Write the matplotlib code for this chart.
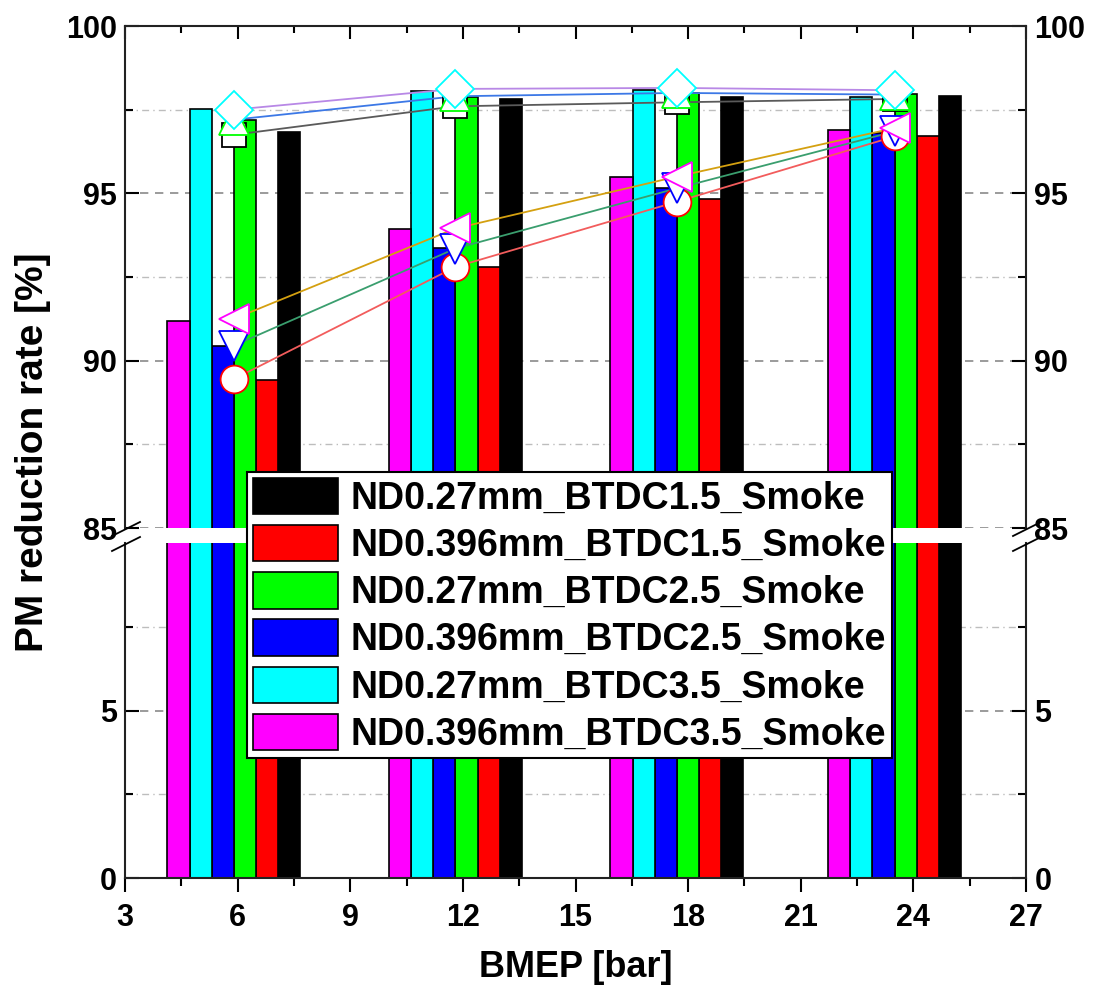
import matplotlib
matplotlib.use("Agg")
import matplotlib.pyplot as plt
import matplotlib.patches as mpatches
from matplotlib.lines import Line2D
from matplotlib.ticker import MultipleLocator, FixedLocator

plt.rcParams['font.family'] = ['Liberation Sans', 'DejaVu Sans']
plt.rcParams['font.weight'] = 'bold'

# ---- data ----
bmep = [5.9, 11.8, 17.7, 23.5]

series_labels = [
    "ND0.27mm_BTDC1.5_Smoke",
    "ND0.396mm_BTDC1.5_Smoke",
    "ND0.27mm_BTDC2.5_Smoke",
    "ND0.396mm_BTDC2.5_Smoke",
    "ND0.27mm_BTDC3.5_Smoke",
    "ND0.396mm_BTDC3.5_Smoke",
]
bar_colors = ["#000000", "#ff0000", "#00ff00", "#0000ff", "#00ffff", "#ff00ff"]

nd027_btdc15 = [96.84, 97.81, 97.87, 97.91]
nd0396_btdc15 = [89.42, 92.81, 94.83, 96.71]
nd027_btdc25 = [97.19, 97.89, 98.01, 97.97]
nd0396_btdc25 = [90.44, 93.38, 95.15, 96.80]
nd027_btdc35 = [97.51, 98.07, 98.09, 97.89]
nd0396_btdc35 = [91.20, 93.93, 95.50, 96.89]
bar_values = [nd027_btdc15, nd0396_btdc15, nd027_btdc25,
              nd0396_btdc25, nd027_btdc35, nd0396_btdc35]

# trend lines with symbols
trend_027_15 = [96.75, 97.60, 97.72, 97.82]
trend_0396_15 = [89.45, 92.80, 94.75, 96.70]
trend_027_25 = [97.20, 97.90, 98.00, 97.95]
trend_0396_25 = [90.45, 93.35, 95.15, 96.85]
trend_027_35 = [97.50, 98.12, 98.15, 98.08]
trend_0396_35 = [91.25, 93.95, 95.50, 96.95]
trend_values = [trend_027_15, trend_0396_15, trend_027_25,
                trend_0396_25, trend_027_35, trend_0396_35]
trend_line_colors = ["#5a5a5a", "#f25c5c", "#3c78e6", "#3a9e6e", "#b888e6", "#d4a010"]
trend_markers = ["s", "o", "^", "v", "D", "<"]
trend_marker_sizes = [17, 20, 21, 22, 19, 22]

x_ticks = [3, 6, 9, 12, 15, 18, 21, 24, 27]

# ---- layout ----
W, H = 1094, 994
fig = plt.figure(figsize=(W / 100, H / 100), dpi=100)
left, right = 125, 1026
top_y0, top_y1 = 26, 528
bot_y0, bot_y1 = 543, 878
ax_top = fig.add_axes([left / W, (H - top_y1) / H, (right - left) / W, (top_y1 - top_y0) / H])
ax_bot = fig.add_axes([left / W, (H - bot_y1) / H, (right - left) / W, (bot_y1 - bot_y0) / H])

bar_w = 0.59
for ax in (ax_top, ax_bot):
    for i, (vals, col) in enumerate(zip(bar_values, bar_colors)):
        off = (2.5 - i) * bar_w
        ax.bar([b + off for b in bmep], vals, width=bar_w, color=col,
               edgecolor="black", linewidth=1.2, zorder=2)

ax_top.set_ylim(85, 100)
ax_bot.set_ylim(0, 10)
for ax in (ax_top, ax_bot):
    ax.set_xlim(3, 27)
    ax.xaxis.set_major_locator(FixedLocator(x_ticks))
    ax.xaxis.set_minor_locator(MultipleLocator(1.5))
    for s in ax.spines.values():
        s.set_linewidth(1.5)
        s.set_color("#222222")

ax_top.yaxis.set_major_locator(FixedLocator([85, 90, 95, 100]))
ax_top.yaxis.set_minor_locator(FixedLocator([87.5, 92.5, 97.5]))
ax_bot.yaxis.set_major_locator(FixedLocator([0, 5]))
ax_bot.yaxis.set_minor_locator(FixedLocator([2.5, 7.5]))

ax_top.spines["bottom"].set_visible(False)
ax_bot.spines["top"].set_visible(False)

for ax in (ax_top, ax_bot):
    ax.set_axisbelow(True)
    ax.grid(True, which="major", axis="y", color="#8a8a8a", linestyle=(0, (5, 4)), linewidth=1.2)
    ax.grid(True, which="minor", axis="y", color="#bdbdbd", linestyle=(0, (5, 3, 1, 3)), linewidth=1.0)
    ax.tick_params(axis="y", which="both", direction="in", left=True, right=True,
                   labelleft=True, labelright=True, labelsize=22, width=1.5, pad=6)
    ax.tick_params(axis="y", which="major", length=10)
    ax.tick_params(axis="y", which="minor", length=6)

ax_top.tick_params(axis="x", which="both", direction="in", top=True, bottom=False,
                   labeltop=False, labelbottom=False, width=1.5)
ax_top.tick_params(axis="x", which="major", length=9)
ax_top.tick_params(axis="x", which="minor", length=5)
ax_bot.tick_params(axis="x", which="both", direction="out", top=False, bottom=True,
                   labelbottom=True, labelsize=22, width=1.5, pad=8)
ax_bot.tick_params(axis="x", which="major", length=10)
ax_bot.tick_params(axis="x", which="minor", length=6)

for lab in ax_top.get_yticklabels() + ax_bot.get_yticklabels() + ax_bot.get_xticklabels():
    lab.set_fontweight("bold")

# trend lines first, then the open symbols on top
for vals, lc in zip(trend_values, trend_line_colors):
    ax_top.plot(bmep, vals, color=lc, linewidth=1.3, zorder=3)
for k, i in enumerate([0, 1, 2, 3, 4, 5]):
    ax_top.plot(bmep, trend_values[i], linestyle="none", marker=trend_markers[i],
                markersize=trend_marker_sizes[i], markerfacecolor="white",
                markeredgecolor=bar_colors[i], markeredgewidth=1.3, zorder=4 + k)

# axis break marks
def fig_line(x0, y0, x1, y1):
    fig.add_artist(Line2D([x0 / W, x1 / W], [(H - y0) / H, (H - y1) / H],
                          color="black", linewidth=1.3))

for xc in (left, right):
    fig_line(xc - 13, 536, xc + 15, 522)
    fig_line(xc - 13, 551, xc + 15, 537)

# labels
ax_bot.set_xlabel("BMEP [bar]", fontsize=26, fontweight="bold", labelpad=12)
fig.text(33 / W, (H - 452) / H, "PM reduction rate [%]", rotation=90,
         fontsize=28, fontweight="bold", ha="center", va="center")

handles = [mpatches.Patch(facecolor=c, edgecolor="black", linewidth=1.2) for c in bar_colors]
leg = fig.legend(handles, series_labels, loc="upper left",
                 bbox_to_anchor=(247 / W, (H - 472) / H), bbox_transform=fig.transFigure,
                 prop={"weight": "bold", "size": 27}, frameon=True, fancybox=False,
                 edgecolor="black", framealpha=1.0, handlelength=2.27, handleheight=1.12,
                 labelspacing=0.22, handletextpad=0.35, borderpad=0.15, borderaxespad=0)
leg.get_frame().set_linewidth(1.5)

fig.savefig("out.png", dpi=100)
